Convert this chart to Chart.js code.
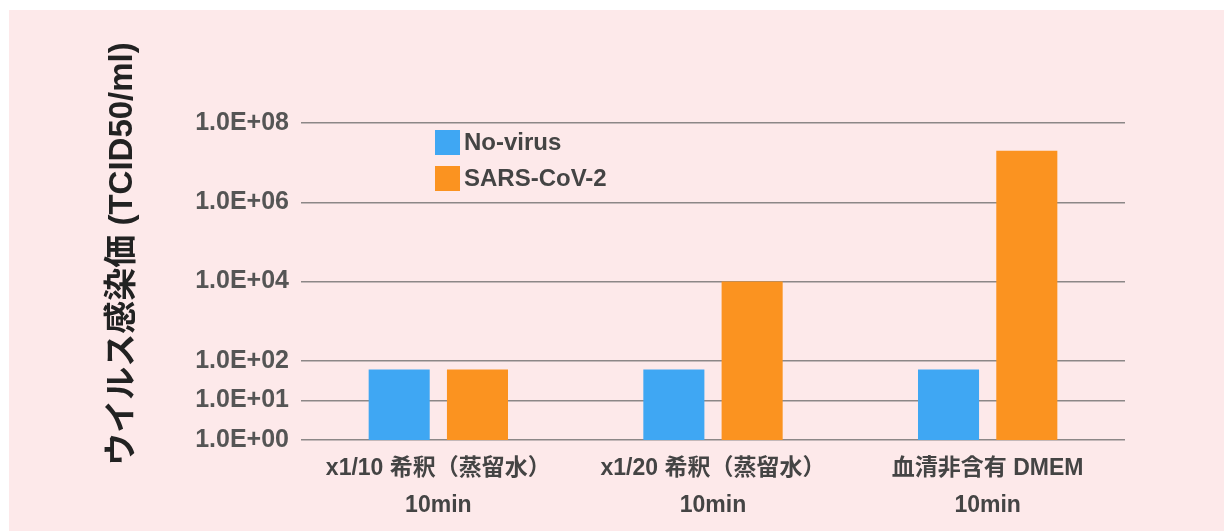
<!DOCTYPE html>
<html>
<head>
<meta charset="utf-8">
<script src="https://cdn.jsdelivr.net/npm/chart.js@4"></script>
<style>
  html, body { margin: 0; padding: 0; background: #ffffff; }
  #wrap { position: absolute; left: 9px; top: 10px; width: 1215px; height: 521px; background: #fde9ea; }
</style>
</head>
<body>
<div id="wrap"><canvas id="chart1" width="1215" height="521"></canvas></div>
<script>
// data
var categories = [
    ['x1/10 希釈（蒸留水）', '10min'],
    ['x1/20 希釈（蒸留水）', '10min'],
    ['血清非含有 DMEM', '10min']
];
var noVirus = [60, 60, 60];
var sarsCov2 = [60, 10000, 20000000];
var tickValues = [1, 10, 100, 10000, 1000000, 100000000];
var yTitle = 'ウイルス感染価 (TCID50/ml)';

var fontFamily = "'Liberation Sans', 'Noto Sans CJK JP', sans-serif";

function sciLabel(v) {
    var e = Math.round(Math.log10(v));
    return '1.0E+' + (e < 10 ? '0' + e : e);
}

// legend inside the plot area + y title that sits higher than the axis middle
var extras = {
    id: 'extras',
    afterDraw: function(chart) {
        var ctx = chart.ctx;
        var area = chart.chartArea;
        var x = area.left + 134;
        var y = area.top + 7;
        ctx.save();
        ctx.font = 'bold 24px ' + fontFamily;
        ctx.textBaseline = 'middle';
        chart.data.datasets.forEach(function(ds, i) {
            var top = y + i * 36;
            ctx.fillStyle = ds.backgroundColor;
            ctx.fillRect(x, top, 25, 25);
            ctx.fillStyle = '#444';
            ctx.fillText(ds.label, x + 29, top + 13);
        });
        ctx.restore();

        ctx.save();
        ctx.translate(114, 244);
        ctx.rotate(-Math.PI / 2);
        ctx.font = 'bold 33px ' + fontFamily;
        ctx.fillStyle = '#222';
        ctx.textAlign = 'center';
        ctx.textBaseline = 'middle';
        ctx.fillText(yTitle, 0, 0);
        ctx.restore();
    }
};

var ctx1 = document.getElementById('chart1').getContext('2d');
var chart1 = new Chart(ctx1, {
    type: 'bar',
    data: {
        labels: categories,
        datasets: [{
            label: 'No-virus',
            data: noVirus,
            backgroundColor: '#3fa7f3'
        }, {
            label: 'SARS-CoV-2',
            data: sarsCov2,
            backgroundColor: '#fb9320'
        }]
    },
    options: {
        responsive: false,
        animation: false,
        categoryPercentage: 0.57,
        barPercentage: 0.78,
        layout: { padding: { left: 91, top: 113, right: 99, bottom: 0 } },
        plugins: {
            legend: { display: false },
            tooltip: { enabled: false }
        },
        scales: {
            x: {
                grid: { display: false, drawTicks: false },
                border: { display: false },
                ticks: {
                    color: '#444',
                    padding: 10,
                    maxRotation: 0,
                    font: { family: fontFamily, size: 23, weight: 'bold', lineHeight: 1.6 }
                },
                afterFit: function(scale) { scale.height = 91; }
            },
            y: {
                type: 'logarithmic',
                min: 1,
                max: 100000000,
                afterBuildTicks: function(scale) {
                    scale.ticks = tickValues.map(function(v) { return { value: v }; });
                },
                afterFit: function(scale) { scale.width = 201; },
                grid: { color: '#8c8787', lineWidth: 1.5, drawTicks: false },
                border: { display: false },
                ticks: {
                    color: '#555',
                    padding: 12,
                    font: { family: fontFamily, size: 25, weight: 'bold' },
                    callback: function(v) { return sciLabel(v); }
                }
            }
        }
    },
    plugins: [extras]
});
</script>
</body>
</html>
